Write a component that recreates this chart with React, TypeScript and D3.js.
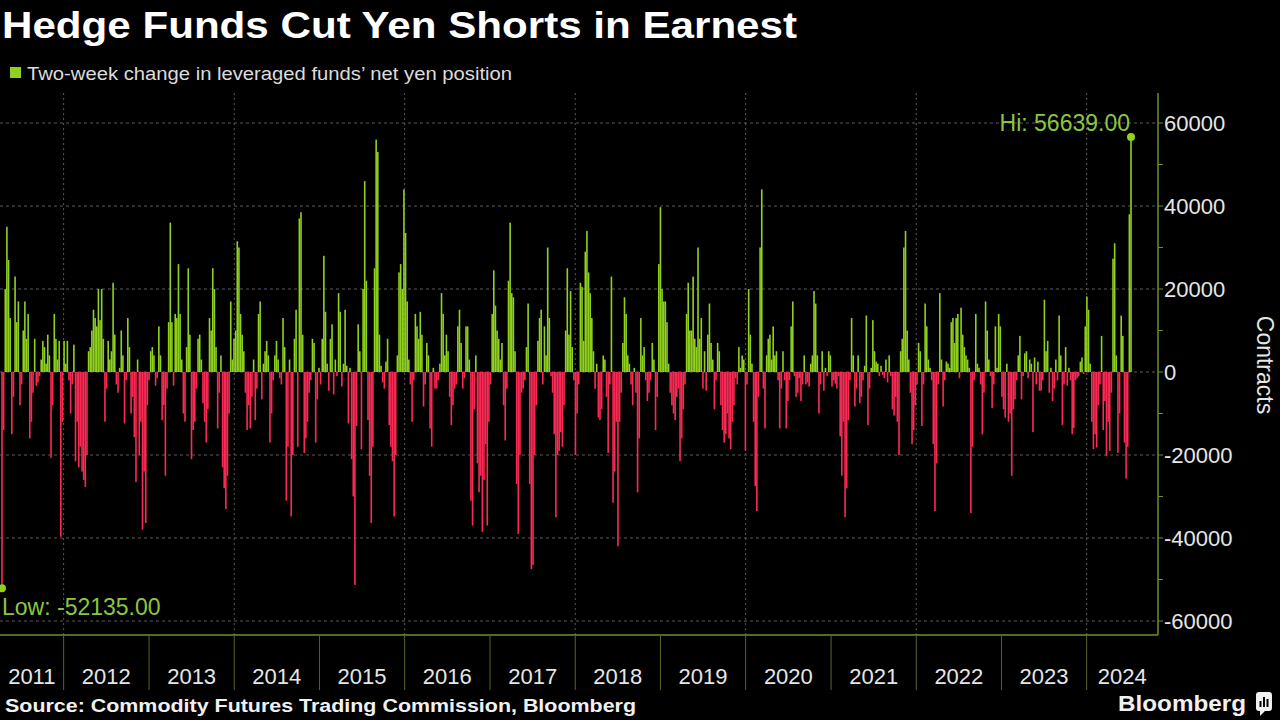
import React from "react";
import * as d3 from "d3";

// Two-week change in leveraged funds' net yen position (contracts), weekly, grouped by calendar year
const chg2011 = [-52135, -14000, 20000, 35000, 27000, 13000, -15000, -6000, 23000, 12000, 17000, -8000, -3000, 10000, 17000, 8000, 14000, -16000, -12000, -5000, 8000, -3300, -2500, -1000, 3000, 7500, 6000, 2000, 9000, 4000, -20700, -8000, 14000, 8000, 3000, 7500, -39700, -12000];
const chg2012 = [7500, 2000, 7500, -2000, -10000, -3000, 6600, -21500, -12000, -23000, -18000, -24000, -26000, -27700, -20000, 5000, 6000, 10000, 15000, 13000, 11000, 20000, 12500, 20000, 8000, -12000, -4000, 7500, 3000, 5000, 21500, 9000, -3000, -5000, 1000, 10000, 4000, -12400, -2000, 13000, 6000, -10000, -6000, -15700, -26500, 3000, -20000, -12000, -38000, -24000, -36400, -8000];
const chg2013 = [-2000, 5000, 6000, 4000, -3300, -1500, 11000, 4000, -11600, -8000, -25000, -4000, 12000, 36000, 12000, -3300, 14000, 13000, 26000, 14000, 3000, -10000, -12000, 6000, 25000, 9000, -21000, -14000, -12000, -4000, 8000, 9000, 3000, -7500, -12000, -17000, -9000, 13000, 10000, 25000, 20000, 6000, -13600, -5000, 4000, -23000, -28000, -33000, -25000, -10000, 17000, 3000, 8000];
const chg2014 = [10000, 31500, 30000, 14000, 9000, 5000, -5000, -14000, -8000, -13600, -6000, 3000, -11600, -4000, 14000, 17000, -6600, 2000, 5000, 7500, 4000, -17000, -10000, -2000, 4000, 7500, 3000, -1500, -3000, 13000, 6000, -31000, -18000, 3000, -34800, -20000, 8000, 15000, -18000, 37000, 38500, 9000, -19500, -16000, -12000, -5000, -2000, 8000, 7000, -17000, -6600, 1000];
const chg2015 = [-3000, 8000, 28000, 14500, 2000, -4500, 8000, 11500, -5400, 3000, -1000, 19000, 14500, -3500, 2000, 15000, 1500, -12400, 1000, -21000, -30000, -51300, -13000, 11500, 5000, -18600, 20000, 46000, 22000, -11600, -25000, -36400, -18000, 25000, 56000, 53000, 9000, 1500, -2500, -4000, 2500, 8000, -12800, -18000, -21500, -34800, -20000, 4000, 24000, 26000, 20000, 44000];
const chg2016 = [33500, 17000, 3000, -3000, -12000, -2000, 14000, 11000, 8000, 14500, 9000, -8300, -3000, 7000, 4000, -13600, -18000, 1000, -4000, -4000, -2000, 2000, 19000, 14000, 4000, 9000, 5000, -6000, -12800, -8000, -4000, -3000, 11000, 15000, 7000, -4000, -1500, 11000, 11000, 3000, -31000, -37000, -9000, 4000, -22000, -29000, -25000, -38500, -26000, -17400, -37000, -12000];
const chg2017 = [-3000, 14000, 24500, 16000, 10000, 8000, 3000, 7000, -8000, -16500, -4000, 22000, 36000, 19000, 18000, 5000, -27000, -39000, -20000, -5000, -4000, -2000, 6000, 16500, -27000, -47500, -46500, -20000, -8000, 7500, 13000, 15000, -3000, 11000, 4000, 30000, 13000, -1000, -5000, -15000, -35000, -20000, -19000, -14500, -18000, -8000, 10000, 25000, 9000, 19500, 6000, -2000];
const chg2018 = [-20000, -10000, -3000, 21500, 20500, 7500, 29000, 34000, 24000, 19000, 13000, 5000, -4000, 2000, -11000, -11600, -9000, 4000, 3000, -6000, -19500, -3000, 23000, -31500, -24000, -12000, -42000, -12000, -5000, 7000, 18000, 14000, 4000, 2000, -3000, -8000, 1000, -5000, -29000, -16000, 13000, 4000, 6000, -2000, -7000, -5000, -2000, 7000, 3000, -14000, -6000, 26000];
const chg2019 = [39700, 20000, 17000, 17000, 12000, 2000, -5000, -8000, -10000, -11600, -6000, -4000, -21500, -16000, -9000, -3000, 14000, 21500, 10000, 10000, 23000, 8000, 6000, 30000, 8000, 13000, -4000, 5000, -4500, 9000, 16500, 7000, 3000, -9000, -2000, 7000, 5000, -8000, -14000, -17000, -15000, -10000, -16000, -18600, -12000, -8000, -1500, -3000, 6000, 1000, 4000, 3000, -19000];
const chg2020 = [-3000, 20000, 9000, 2000, -12000, -27500, -33500, -6000, 30000, 44000, -4000, -13600, 4000, 8000, 9000, 3000, 11000, 4000, 5000, -2000, -13600, -4000, 5000, -2000, -13600, -7000, -2000, 11000, 17000, -1000, -6000, -5000, -1500, -7000, -3000, 4000, -3000, -2500, -3500, 2000, 4000, 19500, 16500, 4000, -10000, -3000, 5000, -4500, 1000, -1000, 5000, 4000];
const chg2021 = [-3500, -2000, -2800, -4000, -1000, -15500, -25000, -12000, -35000, -28000, -11600, -2000, 13000, 4000, -8300, -4000, 4000, -7500, -6000, -2000, 1500, 13600, -12800, -4000, 1000, 12500, 5000, 2500, 2000, -1000, 1500, -700, -1500, 3000, -2500, 4000, -1000, -9000, -10500, -6000, -12000, -20000, 5000, 8000, 30000, 34000, 10000, 3000, -5000, -17400, -14000, -8000];
const chg2022 = [-3000, 7000, 5000, -13000, -3000, 16500, 11000, 3000, 1000, -2000, -17400, -33500, -22000, -3000, 19000, 3000, -8300, -2000, 2500, 2000, 1000, 12000, 13000, 7000, 13000, 14000, -1500, 15500, 9000, 6000, 4000, 3000, 1000, -34000, -18000, -2000, 14000, 2000, 1000, -3000, -15000, -5000, 17000, 10000, 3000, -1000, -8700, -3000, 11000, 1000, 14000, 11000];
const chg2023 = [-6000, -9000, -11000, 2000, -12000, -10000, -25000, -9000, -6600, -2000, 4000, 8700, -6600, -1000, 4500, 5000, -1500, 3000, 2000, -14500, 3500, -3000, 2500, -4500, -4500, -2000, 17400, 5000, 7500, -5000, 1000, -7000, -4000, 3000, -2000, 13600, 4000, -12800, -3000, 6000, -3300, 1000, -2000, -15000, -13500, -2000, -1500, -1000, 2500, 3500, -500, 11000];
const chg2024 = [18200, 15000, 2000, -12000, -18600, -15000, -18200, -8000, -3000, 8700, -14000, -7000, -20300, -12000, -19000, -5000, 27300, 31000, 4000, -19500, -10000, 13600, 8700, -17000, -25700, -18000, 38000, 56639];

const yearlySeries = [chg2011, chg2012, chg2013, chg2014, chg2015, chg2016, chg2017, chg2018, chg2019, chg2020, chg2021, chg2022, chg2023, chg2024];
const yearLabels = ["2011", "2012", "2013", "2014", "2015", "2016", "2017", "2018", "2019", "2020", "2021", "2022", "2023", "2024"];
const yTickValues = [-60000, -40000, -20000, 0, 20000, 40000, 60000];
const FIRST_WEEK = new Date(2011, 3, 12);

const TITLE = "Hedge Funds Cut Yen Shorts in Earnest";
const LEGEND = "Two-week change in leveraged funds\u2019 net yen position";
const SOURCE = "Source: Commodity Futures Trading Commission, Bloomberg";
const AXIS_TITLE = "Contracts";

const GREEN = "#8fd11e";
const RED = "#fb2a55";
const LABEL_GREEN = "#8cc63f";
const AXIS_GREEN = "#6f8f2a";
const GRID = "#5a5a5a";
const FONT = "'Liberation Sans', Arial, sans-serif";

export default function App() {
  const values = yearlySeries.flat();
  const dates = values.map((_, i) => d3.timeDay.offset(FIRST_WEEK, 7 * i));

  const plotLeft = 0;
  const plotRight = 1158;
  const plotTop = 93;
  const plotBottom = 635;

  const x = d3.scaleTime().domain([dates[0], dates[dates.length - 1]]).range([2, 1131]);
  const y = d3.scaleLinear().domain([-60000, 60000]).range([621, 123]);
  const barW = 1.6;

  const minorTicks = d3.range(-60000, 60001, 10000);
  const yearStarts = yearLabels.map((yr) => new Date(+yr, 0, 1));
  const boundaries = yearStarts.slice(1);
  const evenBoundaries = boundaries.filter((d) => d.getFullYear() % 2 === 0);

  const hiIdx = d3.maxIndex(values);
  const loIdx = d3.minIndex(values);
  const hiX = x(dates[hiIdx]);
  const loX = x(dates[loIdx]);

  return (
    <svg
      width={1280}
      height={720}
      style={{ position: "fixed", left: 0, top: 0, background: "#000", display: "block" }}
      fontFamily={FONT}
    >
      <rect x={0} y={0} width={1280} height={720} fill="#000" />

      {/* Title */}
      <text x={2} y={38} fill="#fff" fontSize={36} fontWeight="bold" textLength={795} lengthAdjust="spacingAndGlyphs">
        {TITLE}
      </text>

      {/* Legend */}
      <rect x={10} y={67} width={11} height={11} fill={GREEN} />
      <text x={27} y={80} fill="#dcdcdc" fontSize={18} textLength={485} lengthAdjust="spacingAndGlyphs">
        {LEGEND}
      </text>

      {/* Horizontal grid */}
      {yTickValues.map((v) => (
        <line key={"hg" + v} x1={plotLeft} x2={plotRight} y1={y(v)} y2={y(v)} stroke={GRID} strokeWidth={1} strokeDasharray="3,3" />
      ))}

      {/* Vertical grid (every other year) */}
      {evenBoundaries.map((d) => (
        <line key={"vg" + d.getFullYear()} x1={x(d)} x2={x(d)} y1={plotTop} y2={plotBottom} stroke={GRID} strokeWidth={1} strokeDasharray="2,3" />
      ))}

      {/* Bars */}
      {values.map((v, i) => (
        <rect
          key={"b" + i}
          x={x(dates[i]) - barW / 2}
          y={v >= 0 ? y(v) : y(0)}
          width={barW}
          height={Math.abs(y(v) - y(0))}
          fill={v >= 0 ? GREEN : RED}
        />
      ))}

      {/* Hi / Low annotations */}
      <circle cx={hiX} cy={y(values[hiIdx])} r={4} fill={GREEN} />
      <text x={hiX - 1} y={131} fill={LABEL_GREEN} fontSize={23} textAnchor="end">
        {"Hi: " + values[hiIdx].toFixed(2)}
      </text>
      <circle cx={loX} cy={y(values[loIdx])} r={4} fill={GREEN} />
      <text x={2} y={615} fill={LABEL_GREEN} fontSize={23}>
        {"Low: " + values[loIdx].toFixed(2)}
      </text>

      {/* Right axis */}
      <line x1={plotRight} x2={plotRight} y1={plotTop} y2={plotBottom} stroke={AXIS_GREEN} strokeWidth={1.5} />
      {minorTicks.map((v) => (
        <line key={"mt" + v} x1={plotRight} x2={plotRight + 5} y1={y(v)} y2={y(v)} stroke={AXIS_GREEN} strokeWidth={1} />
      ))}
      {yTickValues.map((v) => (
        <text key={"yl" + v} x={plotRight + 6} y={y(v)} dy="0.35em" fill="#e6e6e6" fontSize={22}>
          {String(v)}
        </text>
      ))}
      <text
        transform={`translate(1257, 365) rotate(90)`}
        textAnchor="middle"
        fill="#e6e6e6"
        fontSize={23}
      >
        {AXIS_TITLE}
      </text>

      {/* Bottom axis */}
      <line x1={plotLeft} x2={plotRight} y1={plotBottom} y2={plotBottom} stroke={AXIS_GREEN} strokeWidth={1.5} />
      {boundaries.map((d) => (
        <line key={"sep" + d.getFullYear()} x1={x(d)} x2={x(d)} y1={plotBottom} y2={690} stroke="#55662e" strokeWidth={1} />
      ))}
      {yearLabels.map((lbl, i) => {
        const a = Math.max(plotLeft, x(yearStarts[i]));
        const b = Math.min(plotRight, x(new Date(+lbl + 1, 0, 1)));
        return (
          <text key={"yr" + lbl} x={(a + b) / 2} y={676} dy="0.35em" textAnchor="middle" fill="#e6e6e6" fontSize={22}>
            {lbl}
          </text>
        );
      })}

      {/* Source */}
      <text x={5} y={712} fill="#f0f0f0" fontSize={18} fontWeight="bold" textLength={631} lengthAdjust="spacingAndGlyphs">
        {SOURCE}
      </text>

      {/* Bloomberg logo */}
      <text x={1118} y={711} fill="#f0f0f0" fontSize={22} fontWeight="bold" textLength={128} lengthAdjust="spacingAndGlyphs">
        Bloomberg
      </text>
      <g transform="translate(1256, 692)">
        <rect x={0} y={0} width={16} height={19} rx={3} fill="#f0f0f0" />
        <path d="M4 19 L4 24 L9 19 Z" fill="#f0f0f0" />
        <rect x={3.5} y={9} width={2} height={6} fill="#000" />
        <rect x={7} y={5} width={2} height={10} fill="#000" />
        <rect x={10.5} y={7} width={2} height={8} fill="#000" />
      </g>
    </svg>
  );
}
